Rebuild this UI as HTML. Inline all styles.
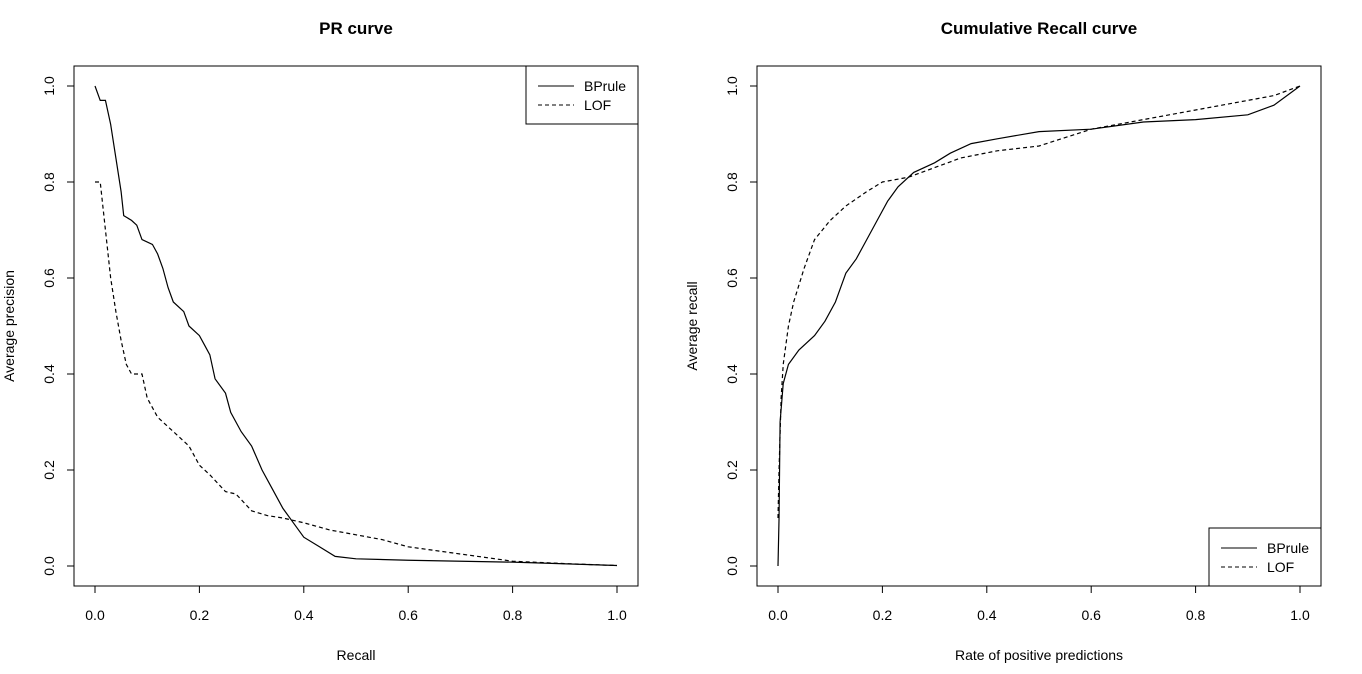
<!DOCTYPE html>
<html><head><meta charset="utf-8"><style>
html,body{margin:0;padding:0;background:#fff;}
svg{display:block;font-family:"Liberation Sans",Arial,sans-serif;}
</style></head><body>
<svg id="c" width="1362" height="674"></svg>
<script>
const ticks=[0,0.2,0.4,0.6,0.8,1.0];
const tickLabels=["0.0","0.2","0.4","0.6","0.8","1.0"];
const prRecall=[0,0.01,0.02,0.03,0.04,0.05,0.055,0.07,0.08,0.09,0.11,0.12,0.13,0.14,0.15,0.17,0.18,0.2,0.21,0.22,0.23,0.25,0.26,0.28,0.3,0.32,0.34,0.36,0.38,0.4,0.43,0.46,0.5,0.6,0.8,1.0];
const prBP=[1.0,0.97,0.97,0.92,0.85,0.78,0.73,0.72,0.71,0.68,0.67,0.65,0.62,0.58,0.55,0.53,0.5,0.48,0.46,0.44,0.39,0.36,0.32,0.28,0.25,0.2,0.16,0.12,0.09,0.06,0.04,0.02,0.015,0.012,0.008,0.001];
const prRecallLOF=[0,0.01,0.02,0.03,0.04,0.05,0.06,0.07,0.09,0.1,0.12,0.15,0.18,0.2,0.22,0.25,0.27,0.3,0.33,0.36,0.4,0.45,0.5,0.55,0.6,0.7,0.8,0.9,1.0];
const prLOF=[0.8,0.8,0.7,0.6,0.53,0.47,0.42,0.4,0.4,0.35,0.31,0.28,0.25,0.21,0.19,0.155,0.15,0.115,0.105,0.1,0.09,0.075,0.065,0.055,0.04,0.025,0.01,0.005,0.001];
const crRate=[0,0.002,0.004,0.01,0.02,0.04,0.07,0.09,0.11,0.12,0.13,0.15,0.17,0.19,0.21,0.23,0.26,0.3,0.33,0.37,0.42,0.5,0.6,0.7,0.8,0.9,0.95,1.0];
const crBP=[0,0.1,0.3,0.38,0.42,0.45,0.48,0.51,0.55,0.58,0.61,0.64,0.68,0.72,0.76,0.79,0.82,0.84,0.86,0.88,0.89,0.905,0.91,0.925,0.93,0.94,0.96,1.0];
const crRateLOF=[0,0.002,0.006,0.01,0.02,0.03,0.05,0.07,0.1,0.13,0.17,0.2,0.25,0.3,0.35,0.42,0.5,0.6,0.7,0.8,0.9,0.95,1.0];
const crLOF=[0.1,0.2,0.35,0.42,0.5,0.55,0.62,0.68,0.72,0.75,0.78,0.8,0.81,0.83,0.85,0.865,0.875,0.91,0.93,0.95,0.97,0.98,1.0];

const svg=document.getElementById('c');
const NS="http://www.w3.org/2000/svg";
function mk(tag,attrs,parent){const e=document.createElementNS(NS,tag);for(const k in attrs)e.setAttribute(k,attrs[k]);(parent||svg).appendChild(e);return e;}
function txt(s,x,y,attrs,parent){const t=mk('text',Object.assign({x:x,y:y,'font-size':14,fill:'#000'},attrs),parent);t.textContent=s;return t;}

function panel(cfg){
  const g=mk('g',{});
  
  
  const X=v=>cfg.x0+v*522, Y=v=>566-v*480;
  const box=mk('rect',{x:cfg.bx,y:66,width:564,height:520,fill:'none',stroke:'#000','stroke-width':1},g);
  
  
  const t=txt(cfg.title,cfg.bx+282,34,{'font-size':17,'font-weight':'bold','text-anchor':'middle'},g);
  
  
  // x axis
  mk('line',{x1:X(0),x2:X(1),y1:586,y2:586,stroke:'#000'},g);
  ticks.forEach((v,i)=>{
    mk('line',{x1:X(v),x2:X(v),y1:586,y2:593,stroke:'#000'},g);
    const l=txt(tickLabels[i],X(v),620,{'text-anchor':'middle'},g);
    
    
    mk('line',{x1:cfg.bx,x2:cfg.bx-7,y1:Y(v),y2:Y(v),stroke:'#000'},g);
    const yl=txt(tickLabels[i],cfg.bx-25,Y(v),{'text-anchor':'middle',transform:`rotate(-90 ${cfg.bx-25} ${Y(v)})`,dy:5},g);
    
    
  });
  mk('line',{x1:cfg.bx,x2:cfg.bx,y1:Y(0),y2:Y(1),stroke:'#000'},g);
  const xt=txt(cfg.xlab,cfg.bx+282,660,{'text-anchor':'middle'},g);
  
  
  const yx=cfg.bx-60;
  const yt=txt(cfg.ylab,yx,326,{'text-anchor':'middle',transform:`rotate(-90 ${yx} 326)`},g);
  
  
  // series
  const p1=mk('polyline',{points:cfg.xa.map((v,i)=>X(v)+','+Y(cfg.ya[i])).join(' '),fill:'none',stroke:'#000','stroke-width':1.2},g);
  
  
  const p2=mk('polyline',{points:cfg.xb.map((v,i)=>X(v)+','+Y(cfg.yb[i])).join(' '),fill:'none',stroke:'#000','stroke-width':1.2,'stroke-dasharray':'4 3'},g);
  
  
  // legend
  const lg=mk('g',{},g);
  
  
  const lx=cfg.lx, ly=cfg.ly;
  mk('rect',{x:lx,y:ly,width:112,height:58,fill:'#fff',stroke:'#000'},lg);
  mk('line',{x1:lx+12,x2:lx+48,y1:ly+20,y2:ly+20,stroke:'#000'},lg);
  mk('line',{x1:lx+12,x2:lx+48,y1:ly+39,y2:ly+39,stroke:'#000','stroke-dasharray':'4 3'},lg);
  const a=txt('BPrule',lx+58,ly+25,{},lg);
  
  
  const b=txt('LOF',lx+58,ly+44,{},lg);
  
  
}
panel({name:'pr-curve-panel',bx:74,x0:95,title:'PR curve',xlab:'Recall',ylab:'Average precision',xa:prRecall,ya:prBP,xb:prRecallLOF,yb:prLOF,lx:526,ly:66});
panel({name:'cumulative-recall-panel',bx:757,x0:778,title:'Cumulative Recall curve',xlab:'Rate of positive predictions',ylab:'Average recall',xa:crRate,ya:crBP,xb:crRateLOF,yb:crLOF,lx:1209,ly:528});
</script>
</body></html>
